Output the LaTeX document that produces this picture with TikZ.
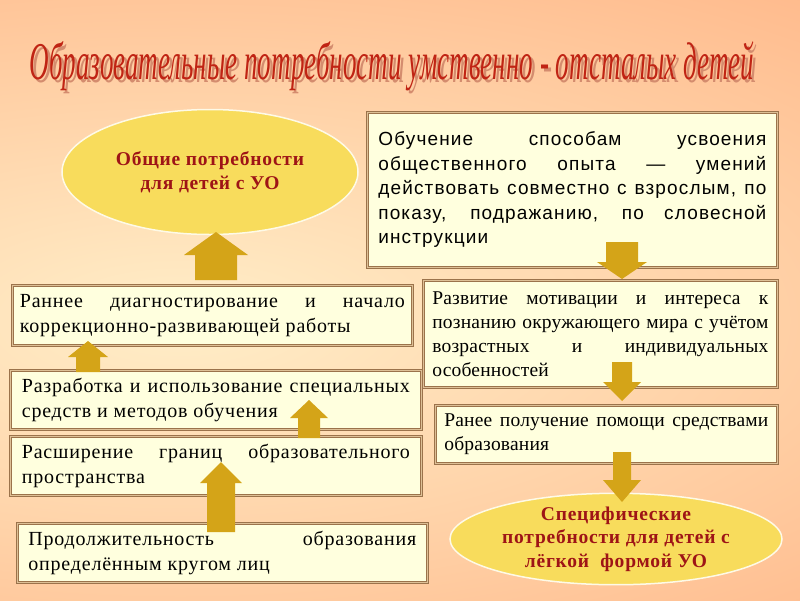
\documentclass[tikz,border=0pt]{standalone}
\usepackage{fontspec}
\setmainfont{Liberation Serif}[LetterSpace=4]
\newfontfamily\sansfont{Liberation Sans}[LetterSpace=6]
\newfontfamily\titlefont{Liberation Serif}
\newfontfamily\rightfont{Liberation Serif}[LetterSpace=1]
\usepackage{graphicx}
\usetikzlibrary{shapes.geometric,shadows}
\definecolor{bgorange}{RGB}{255,158,108}
\definecolor{bgpale}{RGB}{255,238,200}
\definecolor{boxcream}{RGB}{255,255,222}
\definecolor{rimbrown}{RGB}{155,115,75}
\definecolor{rimtan}{RGB}{222,192,150}
\definecolor{ellyellow}{RGB}{248,220,92}
\definecolor{textred}{RGB}{158,20,22}
\definecolor{titlered}{RGB}{192,36,20}
\definecolor{titleshade}{RGB}{212,140,110}
\definecolor{arrowgold}{RGB}{212,164,24}
\hyphenpenalty=10000
\exhyphenpenalty=10000

% title words, drawn once in shade and once in red
\newcommand{\titletext}{\resizebox{725pt}{38pt}{\titlefont\itshape
  Образовательные потребности умственно - отсталых детей}}

% block arrow: axis x, tip y, head base y, tail y, half head, half shaft
\newcommand{\goldarrow}[6]{%
  \fill[arrowgold] ({#1-#5},#3) -- (#1,#2) -- ({#1+#5},#3) -- ({#1+#6},#3)
    -- ({#1+#6},#4) -- ({#1-#6},#4) -- ({#1-#6},#3) -- cycle;}

\begin{document}
\begin{tikzpicture}[x=1pt,y=-1pt,
  infobox/.style={rectangle,draw=rimbrown,double=rimtan,double distance=1.6pt,
                  line width=0.7pt,fill=boxcream,anchor=north west,
                  inner xsep=6pt,inner ysep=3pt,align=justify,
                  font=\fontsize{20}{24.5}\selectfont,
                  drop shadow={opacity=0.25,shadow xshift=2pt,shadow yshift=-2pt}},
  needs/.style={ellipse,fill=ellyellow,draw=white!85!ellyellow,line width=1.5pt,
                inner sep=0pt,align=center,text=textred,
                font=\bfseries\fontsize{19.5}{23.5}\selectfont},
]

%% Background
\useasboundingbox (0,0) rectangle (800,600);
\begin{scope}
  \clip (0,0) rectangle (800,600);
  \shade[inner color=bgpale,outer color=bgorange]
    (180,320) ellipse [x radius=1600,y radius=640];
\end{scope}

%% Title with its shadow
\node[text=titlered] (title) at (392,68)
  {\rlap{\hspace{3pt}\raisebox{-3pt}{\color{titleshade}\titletext}}\titletext};

%% Ellipses
\node[needs,minimum width=296pt,minimum height=125pt] (general) at (210,172)
  {Общие потребности\\для детей с УО};
\node[needs,minimum width=332pt,minimum height=88pt] (specific) at (616,539)
  {Специфические\\потребности для детей с\\лёгкой\ \ формой УО};

%% Left column
\node[infobox,minimum width=400pt,minimum height=60pt,text width=385pt] (diag) at (12,285)
  {Раннее диагностирование и начало\linebreak коррекционно-развивающей работы};
\node[infobox,minimum width=411pt,minimum height=59pt,text width=388pt] (means) at (10,370)
  {Разработка и использование специальных\linebreak средств и методов обучения};
\node[infobox,minimum width=411pt,minimum height=59pt,text width=388pt] (space) at (10,436)
  {Расширение границ образовательного\linebreak пространства};
\node[infobox,minimum width=410pt,minimum height=59pt,text width=388pt] (duration) at (17,523)
  {Продолжительность образования\linebreak определённым кругом лиц};

%% Right column
\node[infobox,minimum width=410pt,minimum height=155pt,text width=388pt,
      font=\sansfont\fontsize{19}{24.5}\selectfont] (learning) at (367,112)
  {Обучение способам усвоения\linebreak общественного опыта — умений\linebreak
   действовать совместно с взрослым, по\linebreak показу, подражанию, по словесной\linebreak
   инструкции\par\vspace*{24pt}};
\node[infobox,minimum width=354pt,minimum height=107pt,text width=336pt,
      font=\rightfont\fontsize{19.5}{24}\selectfont] (motive) at (423,280)
  {Развитие мотивации и интереса к\linebreak познанию окружающего мира с учётом\linebreak
   возрастных и индивидуальных\linebreak особенностей};
\node[infobox,minimum width=342pt,minimum height=58pt,text width=324pt,
      font=\rightfont\fontsize{19.5}{24.5}\selectfont] (help) at (435,405)
  {Ранее получение помощи средствами\linebreak образования};

%% Block arrows, up on the left
\goldarrow{216}{232}{255}{280}{32}{21}
\goldarrow{88}{341}{357}{372}{20}{12}
\goldarrow{309}{400}{418}{438}{19}{11}
\goldarrow{221}{462}{483}{532}{21}{14}

%% Block arrows, down on the right
\goldarrow{622}{279}{262}{242}{25}{16}
\goldarrow{622}{401}{382}{362}{19}{10}
\goldarrow{622}{502}{480}{452}{19}{9}

\end{tikzpicture}
\end{document}
